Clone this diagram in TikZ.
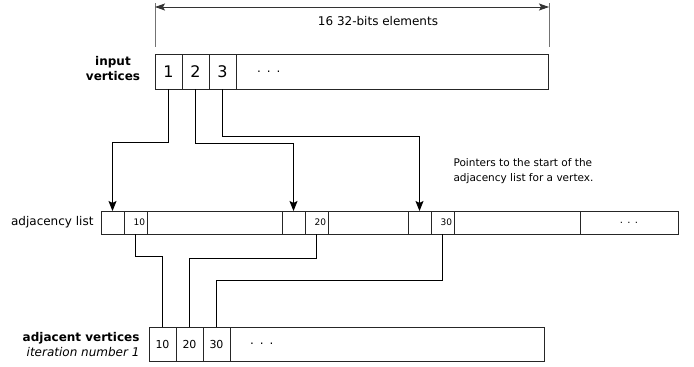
\documentclass[tikz,border=0pt]{standalone}
\usepackage{fontspec}
\setmainfont{DejaVu Sans}
\usetikzlibrary{positioning,arrows.meta}
\tikzset{
  slot/.style={rectangle,draw=black!85,line width=0.8pt,outer sep=0pt,inner sep=0pt,minimum height=35pt},
  big/.style={slot,minimum width=27pt,font=\fontsize{16}{16}\selectfont},
  mid/.style={slot,minimum width=27pt,minimum height=34pt,font=\fontsize{11}{11}\selectfont},
  adj/.style={slot,minimum height=23pt,minimum width=23pt},
  num/.style={adj,text width=19pt,inner xsep=2pt,align=right,font=\fontsize{9}{9}\selectfont},
  rest/.style={slot,align=left,font=\fontsize{12}{12}\selectfont},
  ptr/.style={-{Stealth[length=10pt,width=8pt,inset=2pt]},line width=0.8pt,black},
  wire/.style={line width=0.8pt,black},
  dim/.style={{Stealth[length=10pt,width=7pt,inset=2pt]}-{Stealth[length=10pt,width=7pt,inset=2pt]},line width=0.8pt,black!80},
  tick/.style={line width=1pt,black!55},
  lbl/.style={font=\fontsize{12}{15}\selectfont},
}
\begin{document}
\begin{tikzpicture}[x=1pt,y=-1pt]
  \useasboundingbox (0,0) rectangle (694,367);
  % width of the input array
  \coordinate (dimL) at (155,7); \coordinate (dimR) at (549,7);
  \draw[tick] (155,3) -- (155,47); \draw[tick] (549,3) -- (549,47);
  \draw[dim] (dimL) -- (dimR);
  \node[lbl] (width) at (378,21) {16 32-bits elements};
  % input vertices
  \node[big] (i1) at (168.5,71.5) {1};
  \node[big,right=0pt of i1] (i2) {2};
  \node[big,right=0pt of i2] (i3) {3};
  \node[rest,right=0pt of i3,minimum width=312pt,text width=270pt,inner xsep=21pt] (irest) {. . .};
  \node[lbl,font=\bfseries\fontsize{12}{15}\selectfont,align=center] (inlbl) at (113,68.5) {input\\vertices};
  % adjacency list
  \node[adj] (a1) at (112.5,222.5) {};
  \node[num,right=0pt of a1] (v1) {10};
  \node[adj,right=0pt of v1,minimum width=135pt] (g1) {};
  \node[adj,right=0pt of g1] (a2) {};
  \node[num,right=0pt of a2] (v2) {20};
  \node[adj,right=0pt of v2,minimum width=80pt] (g2) {};
  \node[adj,right=0pt of g2] (a3) {};
  \node[num,right=0pt of a3] (v3) {30};
  \node[adj,right=0pt of v3,minimum width=126pt] (g3) {};
  \node[adj,right=0pt of g3,minimum width=98pt,font=\fontsize{10}{10}\selectfont] (adots) {. . .};
  \node[lbl,anchor=east] (adjlbl) at (97,222.5) {adjacency list};
  \node[lbl,font=\fontsize{10.5}{14.5}\selectfont,align=left,anchor=west] (note) at (450,171) {Pointers to the start of the\\adjacency list for a vertex.};
  % adjacent vertices, first iteration
  \node[mid] (o1) at (162.5,344) {10};
  \node[mid,right=0pt of o1] (o2) {20};
  \node[mid,right=0pt of o2] (o3) {30};
  \node[rest,right=0pt of o3,minimum width=314pt,minimum height=34pt,text width=274pt,inner xsep=20pt] (orest) {. . .};
  \node[lbl,align=right,anchor=east] (outlbl) at (143,345) {\textbf{adjacent vertices}\\\textit{iteration number 1}};
  % vertex -> start of its list
  \draw[ptr] (i1.south) -- ++(0,53) -| (a1.north);
  \draw[ptr] (i2.south) -- ++(0,54) -| (a2.north);
  \draw[ptr] (i3.south) -- ++(0,47) -| (a3.north);
  % list entry -> adjacent vertex slot
  \draw[wire] (v1.south) -- ++(0,22) -| (o1.north);
  \draw[wire] (v2.south) -- ++(0,24) -| (o2.north);
  \draw[wire] (v3.south) -- ++(0,46) -| (o3.north);
\end{tikzpicture}
\end{document}
